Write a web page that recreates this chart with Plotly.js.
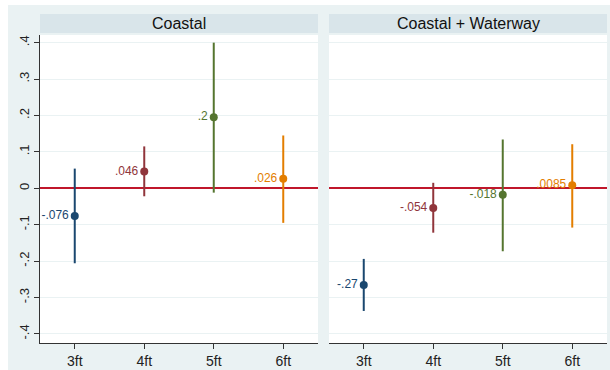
<!DOCTYPE html>
<html>
<head>
<meta charset="utf-8">
<script src="https://cdn.plot.ly/plotly-3.0.1.min.js"></script>
<style>
html, body { margin: 0; padding: 0; background: #ffffff; }
#chart { position: absolute; left: 8px; top: 5px; width: 602px; height: 365px; }
</style>
</head>
<body>
<div id="chart"></div>
<script>
// Data
const categories = ["3ft", "4ft", "5ft", "6ft"];
const categoryPos = [3, 4, 5, 6];
const panels = ["Coastal", "Coastal + Waterway"];
const coastalEst = [-0.076, 0.046, 0.195, 0.026];
const coastalLo = [-0.206, -0.022, -0.012, -0.095];
const coastalHi = [0.054, 0.115, 0.40, 0.145];
const coastalLabels = ["-.076", ".046", ".2", ".026"];
const waterEst = [-0.266, -0.054, -0.018, 0.0085];
const waterLo = [-0.337, -0.122, -0.173, -0.108];
const waterHi = [-0.194, 0.015, 0.134, 0.121];
const waterLabels = ["-.27", "-.054", "-.018", ".0085"];
const yTickVals = [-0.4, -0.3, -0.2, -0.1, 0, 0.1, 0.2, 0.3, 0.4];
const yTickText = ["-.4", "-.3", "-.2", "-.1", "0", ".1", ".2", ".3", ".4"];
const colors = ["#1a476f", "#90353b", "#55752f", "#e37e00"];

const sets = [
  {est: coastalEst, lo: coastalLo, hi: coastalHi, lab: coastalLabels, xa: "x", ya: "y"},
  {est: waterEst, lo: waterLo, hi: waterHi, lab: waterLabels, xa: "x2", ya: "y2"}
];

const fontFam = "Liberation Sans, Arial, sans-serif";
const traces = [];
sets.forEach(s => {
  for (let i = 0; i < categories.length; i++) {
    traces.push({
      type: "scatter",
      mode: "markers+text",
      x: [categoryPos[i]],
      y: [s.est[i]],
      text: [s.lab[i]],
      textposition: "middle left",
      textfont: {family: fontFam, size: 12, color: colors[i]},
      marker: {color: colors[i], size: 8},
      error_y: {
        type: "data", symmetric: false,
        array: [s.hi[i] - s.est[i]],
        arrayminus: [s.est[i] - s.lo[i]],
        color: colors[i], thickness: 2, width: 0
      },
      xaxis: s.xa, yaxis: s.ya,
      hoverinfo: "skip", showlegend: false, cliponaxis: false
    });
  }
});

const xBase = {
  range: [2.5, 6.5],
  tickvals: categoryPos, ticktext: categories,
  ticks: "outside", ticklen: 5, tickcolor: "#333", tickwidth: 1,
  showline: true, linecolor: "#333", linewidth: 1.2,
  showgrid: false, zeroline: false,
  tickfont: {family: fontFam, size: 14, color: "#222"},
  fixedrange: true
};
const yBase = {
  range: [-0.425, 0.421],
  tickvals: yTickVals, ticktext: yTickText,
  showgrid: true, gridcolor: "#eaf2f3", gridwidth: 1,
  zeroline: true, zerolinecolor: "#c0172b", zerolinewidth: 1.6,
  fixedrange: true
};

const strip0 = 1 + 2 / 308, strip1 = 1 + 21 / 308;
const d1 = 278 / 567, d2 = 289 / 567;

const layout = {
  width: 602, height: 365,
  margin: {l: 32, r: 3, t: 30, b: 27, pad: 0},
  paper_bgcolor: "#eaf2f3",
  plot_bgcolor: "#ffffff",
  font: {family: fontFam, color: "#222"},
  xaxis: Object.assign({}, xBase, {domain: [0, d1], anchor: "y"}),
  xaxis2: Object.assign({}, xBase, {domain: [d2, 1], anchor: "y2"}),
  yaxis: Object.assign({}, yBase, {
    domain: [0, 1], anchor: "x",
    showticklabels: true, ticks: "outside", ticklen: 5, tickcolor: "#333",
    showline: true, linecolor: "#333", linewidth: 1.2,
    tickangle: -90,
    tickfont: {family: fontFam, size: 13, color: "#222"}
  }),
  yaxis2: Object.assign({}, yBase, {
    domain: [0, 1], anchor: "x2",
    showticklabels: false, ticks: "", showline: false
  }),
  shapes: [
    {type: "rect", xref: "x domain", yref: "paper", x0: 0, x1: 1, y0: strip0, y1: strip1,
     fillcolor: "#d9e5ea", line: {width: 0}, layer: "below"},
    {type: "rect", xref: "x2 domain", yref: "paper", x0: 0, x1: 1, y0: strip0, y1: strip1,
     fillcolor: "#d9e5ea", line: {width: 0}, layer: "below"}
  ],
  annotations: [
    {text: panels[0], xref: "x domain", yref: "paper", x: 0.5, y: (strip0 + strip1) / 2,
     showarrow: false, xanchor: "center", yanchor: "middle",
     font: {family: fontFam, size: 16, color: "#111"}},
    {text: panels[1], xref: "x2 domain", yref: "paper", x: 0.5, y: (strip0 + strip1) / 2,
     showarrow: false, xanchor: "center", yanchor: "middle",
     font: {family: fontFam, size: 16, color: "#111"}}
  ]
};

Plotly.newPlot("chart", traces, layout, {displayModeBar: false, staticPlot: true});
</script>
</body>
</html>
